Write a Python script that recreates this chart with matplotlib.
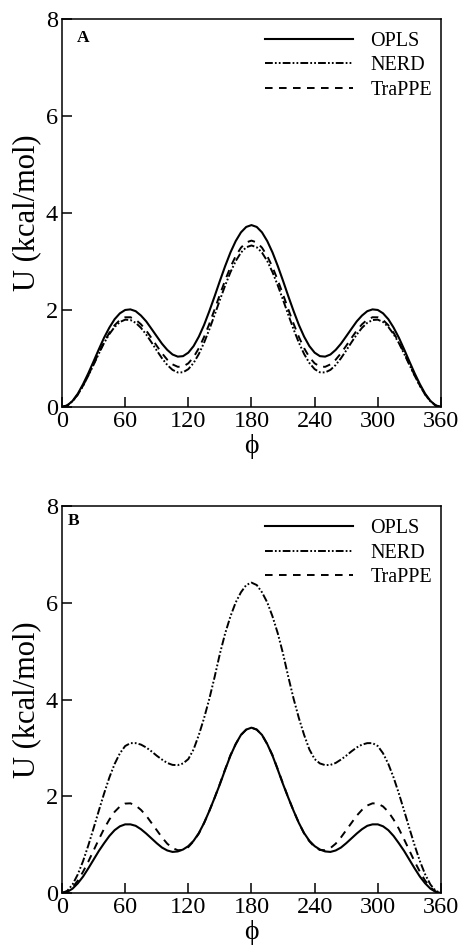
import matplotlib
matplotlib.use("Agg")
import matplotlib.pyplot as plt

plt.rcParams['font.family'] = ['Liberation Serif', 'DejaVu Serif']

phi = list(range(0, 365, 5))
x_ticks = [0, 60, 120, 180, 240, 300, 360]
y_ticks = [0, 2, 4, 6, 8]
series_names = ['OPLS', 'NERD', 'TraPPE']

# panel A, values every 5 degrees
opls_a = [0, 0.032, 0.125, 0.273, 0.47, 0.695, 0.94, 1.19, 1.43, 1.637, 1.81, 1.931, 2.00, 2.012, 1.975, 1.885,
          1.765, 1.612, 1.457, 1.304, 1.177, 1.082, 1.038, 1.048, 1.12, 1.255, 1.45, 1.693, 1.978, 2.283, 2.60,
          2.905, 3.185, 3.42, 3.60, 3.712, 3.75,
          3.712, 3.60, 3.42, 3.185, 2.905, 2.60, 2.283, 1.978, 1.693, 1.45, 1.255, 1.12, 1.048, 1.038, 1.082,
          1.177, 1.304, 1.457, 1.612, 1.765, 1.885, 1.975, 2.012, 2.00, 1.931, 1.81, 1.637, 1.43, 1.19, 0.94,
          0.695, 0.47, 0.273, 0.125, 0.032, 0]
nerd_a = [0, 0.03, 0.117, 0.255, 0.435, 0.646, 0.87, 1.10, 1.32, 1.503, 1.65, 1.752, 1.80, 1.793, 1.735, 1.632,
          1.494, 1.333, 1.165, 1.004, 0.866, 0.765, 0.712, 0.715, 0.78, 0.907, 1.092, 1.327, 1.601, 1.90, 2.207,
          2.505, 2.778, 3.008, 3.183, 3.293, 3.33,
          3.293, 3.183, 3.008, 2.778, 2.505, 2.207, 1.90, 1.601, 1.327, 1.092, 0.907, 0.78, 0.715, 0.712, 0.765,
          0.866, 1.004, 1.165, 1.333, 1.494, 1.632, 1.735, 1.793, 1.80, 1.752, 1.65, 1.503, 1.32, 1.10, 0.87,
          0.646, 0.435, 0.255, 0.117, 0.03, 0]
trappe_a = [0, 0.03, 0.118, 0.258, 0.44, 0.655, 0.885, 1.118, 1.338, 1.531, 1.686, 1.794, 1.849, 1.850, 1.80,
            1.705, 1.575, 1.422, 1.261, 1.107, 0.975, 0.878, 0.828, 0.834, 0.90, 1.027, 1.212, 1.445, 1.716,
            2.013, 2.318, 2.613, 2.883, 3.111, 3.284, 3.393, 3.43,
            3.393, 3.284, 3.111, 2.883, 2.613, 2.318, 2.013, 1.716, 1.445, 1.212, 1.027, 0.90, 0.834, 0.828,
            0.878, 0.975, 1.107, 1.261, 1.422, 1.575, 1.705, 1.80, 1.850, 1.849, 1.794, 1.686, 1.531, 1.338,
            1.118, 0.885, 0.655, 0.44, 0.258, 0.118, 0.03, 0]

# panel B
opls_b = [0, 0.023, 0.09, 0.20, 0.34, 0.51, 0.69, 0.87, 1.03, 1.18, 1.30, 1.38, 1.42, 1.42, 1.39, 1.32, 1.23,
          1.13, 1.03, 0.94, 0.88, 0.85, 0.86, 0.90, 0.97, 1.08, 1.24, 1.45, 1.70, 1.97, 2.25, 2.55, 2.84, 3.08,
          3.27, 3.38, 3.42,
          3.38, 3.27, 3.08, 2.84, 2.55, 2.25, 1.97, 1.70, 1.45, 1.24, 1.08, 0.97, 0.90, 0.86, 0.85, 0.88, 0.94,
          1.03, 1.13, 1.23, 1.32, 1.39, 1.42, 1.42, 1.38, 1.30, 1.18, 1.03, 0.87, 0.69, 0.51, 0.34, 0.20, 0.09,
          0.023, 0]
nerd_b = [0, 0.045, 0.175, 0.385, 0.66, 0.985, 1.34, 1.705, 2.06, 2.39, 2.67, 2.89, 3.04, 3.10, 3.10, 3.07,
          3.01, 2.93, 2.84, 2.76, 2.69, 2.65, 2.645, 2.68, 2.77, 2.97, 3.27, 3.62, 4.02, 4.47, 4.95, 5.37, 5.72,
          6.01, 6.22, 6.37, 6.42,
          6.37, 6.22, 6.01, 5.72, 5.37, 4.95, 4.47, 4.02, 3.62, 3.27, 2.97, 2.77, 2.68, 2.645, 2.65, 2.69, 2.76,
          2.84, 2.93, 3.01, 3.07, 3.10, 3.10, 3.04, 2.89, 2.67, 2.39, 2.06, 1.705, 1.34, 0.985, 0.66, 0.385,
          0.175, 0.045, 0]
trappe_b = [0, 0.03, 0.117, 0.256, 0.44, 0.65, 0.88, 1.11, 1.33, 1.52, 1.68, 1.79, 1.85, 1.855, 1.81, 1.72,
            1.60, 1.45, 1.30, 1.15, 1.02, 0.93, 0.885, 0.89, 0.95, 1.07, 1.23, 1.45, 1.70, 1.97, 2.26, 2.56,
            2.85, 3.08, 3.27, 3.38, 3.42,
            3.38, 3.27, 3.08, 2.85, 2.56, 2.26, 1.97, 1.70, 1.45, 1.23, 1.07, 0.95, 0.89, 0.885, 0.93, 1.02,
            1.15, 1.30, 1.45, 1.60, 1.72, 1.81, 1.855, 1.85, 1.79, 1.68, 1.52, 1.33, 1.11, 0.88, 0.65, 0.44,
            0.256, 0.117, 0.03, 0]


def draw_panel(ax, letter, letter_pos, opls, nerd, trappe):
    ax.plot(phi, opls, color='black', lw=1.5, ls='-', label=series_names[0])
    ax.plot(phi, nerd, color='black', lw=1.4, dashes=(4, 1.1, 0.9, 1.1, 0.9, 1.1), label=series_names[1])
    ax.plot(phi, trappe, color='black', lw=1.4, dashes=(3.9, 3.3), label=series_names[2])

    ax.set_xlim(0, 360)
    ax.set_ylim(0, 8)
    ax.set_xticks(x_ticks)
    ax.set_yticks(y_ticks)
    ax.tick_params(direction='in', length=7, width=1.1, labelsize=17.5, pad=3)
    for spine in ax.spines.values():
        spine.set_linewidth(1.1)

    ax.set_xlabel('ϕ', fontsize=20, labelpad=1)
    ax.set_ylabel('U (kcal/mol)', fontsize=22, labelpad=3)
    ax.text(letter_pos[0], letter_pos[1], letter, transform=ax.transAxes, fontsize=12.5,
            fontweight='bold', va='center', ha='left')

    ax.legend(loc='upper right', bbox_to_anchor=(1.0, 0.99), frameon=False, fontsize=14.5,
              handlelength=4.4, handletextpad=0.85, labelspacing=0.26, borderaxespad=0.05)


def main():
    fig = plt.figure(figsize=(4.61, 9.48), dpi=100)
    ax_a = fig.add_axes([0.1345, 0.5707, 0.822, 0.4093])
    ax_b = fig.add_axes([0.1345, 0.058, 0.822, 0.408])
    draw_panel(ax_a, 'A', (0.038, 0.951), opls_a, nerd_a, trappe_a)
    draw_panel(ax_b, 'B', (0.014, 0.962), opls_b, nerd_b, trappe_b)
    fig.savefig('out.png', dpi=100)


if __name__ == "__main__":
    main()
